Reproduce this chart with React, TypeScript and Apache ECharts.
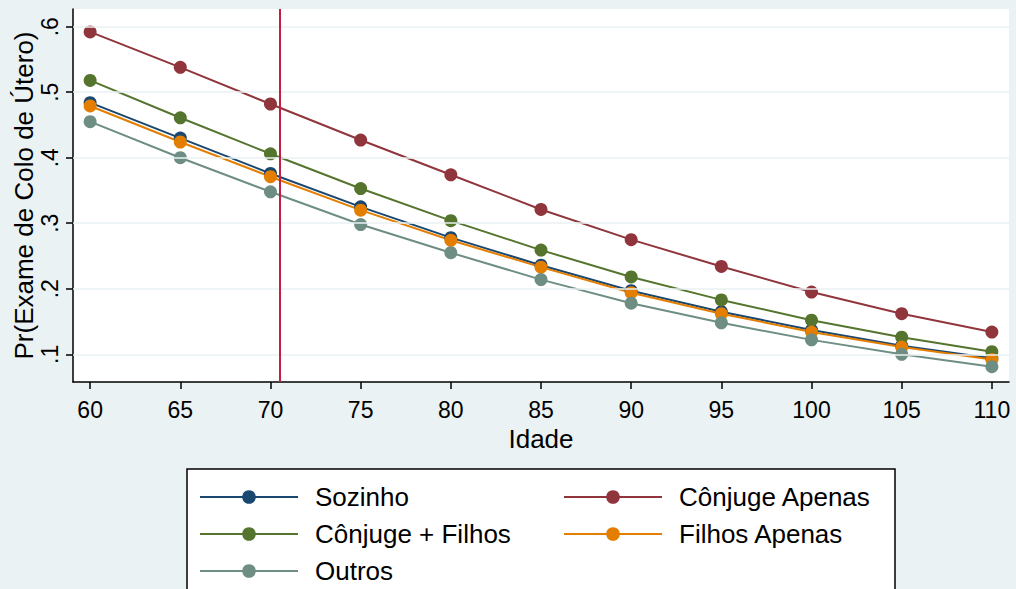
import React, { useEffect, useRef } from "react";
import * as echarts from "echarts";

const ages = [60, 65, 70, 75, 80, 85, 90, 95, 100, 105, 110];
const xTicks = [60, 65, 70, 75, 80, 85, 90, 95, 100, 105, 110];
const yTicks = [0.1, 0.2, 0.3, 0.4, 0.5, 0.6];
const yTickLabels = [".1", ".2", ".3", ".4", ".5", ".6"];

const sozinho = [0.484, 0.43, 0.376, 0.325, 0.278, 0.236, 0.197, 0.165, 0.137, 0.113, 0.094];
const conjugeApenas = [0.592, 0.538, 0.482, 0.427, 0.374, 0.321, 0.275, 0.234, 0.195, 0.162, 0.134];
const conjugeFilhos = [0.518, 0.461, 0.406, 0.353, 0.304, 0.259, 0.218, 0.183, 0.152, 0.126, 0.104];
const filhosApenas = [0.479, 0.424, 0.371, 0.32, 0.274, 0.233, 0.194, 0.162, 0.134, 0.111, 0.092];
const outros = [0.455, 0.4, 0.348, 0.298, 0.255, 0.214, 0.178, 0.148, 0.122, 0.1, 0.081];

const refAge = 70.5;

const seriesDefs = [
  { name: "Sozinho", data: sozinho, color: "#1A476F" },
  { name: "Cônjuge Apenas", data: conjugeApenas, color: "#90353B" },
  { name: "Cônjuge + Filhos", data: conjugeFilhos, color: "#55752F" },
  { name: "Filhos Apenas", data: filhosApenas, color: "#E37E00" },
  { name: "Outros", data: outros, color: "#6E8E84" },
];

const legendPos = [
  { name: "Sozinho", left: 199, top: 484 },
  { name: "Cônjuge Apenas", left: 563, top: 484 },
  { name: "Cônjuge + Filhos", left: 199, top: 521 },
  { name: "Filhos Apenas", left: 563, top: 521 },
  { name: "Outros", left: 199, top: 558 },
];

const FONT = "'Liberation Sans', Arial, Helvetica, sans-serif";

export default function App() {
  const ref = useRef<HTMLDivElement>(null);
  useEffect(() => {
    if (!ref.current) return;
    const chart = echarts.init(ref.current, undefined, { renderer: "svg" });
    const lineSeries = seriesDefs.map((s) => ({
      name: s.name,
      type: "line",
      data: ages.map((a, i) => [a, s.data[i]]),
      symbol: "circle",
      symbolSize: 13,
      z: 3,
      itemStyle: { color: s.color },
      lineStyle: { color: s.color, width: 2 },
    }));
    chart.setOption({
      animation: false,
      backgroundColor: "#EAF2F3",
      textStyle: { fontFamily: FONT },
      grid: {
        left: 73,
        top: 9,
        right: 7,
        bottom: 207,
        containLabel: false,
        outerBoundsMode: "none",
        show: true,
        backgroundColor: "#ffffff",
        borderWidth: 0,
      },
      xAxis: {
        type: "value",
        min: 59.05,
        max: 110.95,
        name: "Idade",
        nameLocation: "middle",
        nameGap: 44,
        nameTextStyle: { fontSize: 26, color: "#000", fontFamily: FONT },
        axisLine: { show: true, onZero: false, lineStyle: { color: "#000", width: 1.5 } },
        axisTick: { show: true, length: 7, customValues: xTicks, lineStyle: { color: "#000", width: 1.5 } },
        axisLabel: { fontSize: 23, color: "#000", margin: 16, customValues: xTicks, fontFamily: FONT },
        splitLine: { show: false },
      },
      yAxis: {
        type: "value",
        min: 0.0577,
        max: 0.627,
        name: "Pr(Exame de Colo de Útero)",
        nameLocation: "middle",
        nameGap: 36,
        nameMoveOverlap: false,
        nameTextStyle: { fontSize: 26, color: "#000", fontFamily: FONT, padding: [0, 0, 0, 0] },
        axisLine: { show: true, onZero: false, lineStyle: { color: "#000", width: 1.5 } },
        axisTick: { show: true, length: 7, customValues: yTicks, lineStyle: { color: "#000", width: 1.5 } },
        axisLabel: {
          fontSize: 23,
          color: "#000",
          rotate: 90,
          margin: 12,
          customValues: yTicks,
          fontFamily: FONT,
          formatter: (v: number) => {
            const idx = yTicks.findIndex((t) => Math.abs(t - v) < 1e-6);
            return idx >= 0 ? yTickLabels[idx] : "";
          },
        },
        splitLine: { show: false },
      },
      legend: legendPos.map((l) => ({
        data: [l.name],
        left: l.left,
        top: l.top,
        padding: 0,
        itemWidth: 98,
        itemHeight: 17,
        z: 10,
        selectedMode: false,
        textStyle: {
          fontSize: 26,
          color: "#000",
          fontFamily: FONT,
          lineHeight: 26,
          padding: [0, 0, 0, 12],
        },
      })),
      graphic: [
        {
          type: "rect",
          z: 1,
          shape: { x: 187, y: 469, width: 708, height: 140 },
          style: { fill: "#ffffff", stroke: "#000000", lineWidth: 1.5 },
        },
      ],
      series: [
        {
          name: "grid",
          type: "line",
          data: [],
          z: 1,
          silent: true,
          markLine: {
            silent: true,
            symbol: ["none", "none"],
            label: { show: false },
            lineStyle: { color: "#EAF2F3", width: 1.5, type: "solid" },
            data: yTicks.map((v) => ({ yAxis: v })),
          },
        },
        ...lineSeries,
        {
          name: "ref",
          type: "line",
          data: [],
          z: 5,
          silent: true,
          markLine: {
            silent: true,
            symbol: ["none", "none"],
            label: { show: false },
            lineStyle: { color: "#C41E45", width: 2, type: "solid" },
            data: [{ xAxis: refAge }],
          },
        },
      ],
    });
    return () => chart.dispose();
  }, []);
  return (
    <div
      ref={ref}
      style={{ position: "fixed", left: 0, top: 0, width: 1016, height: 589 }}
    />
  );
}
